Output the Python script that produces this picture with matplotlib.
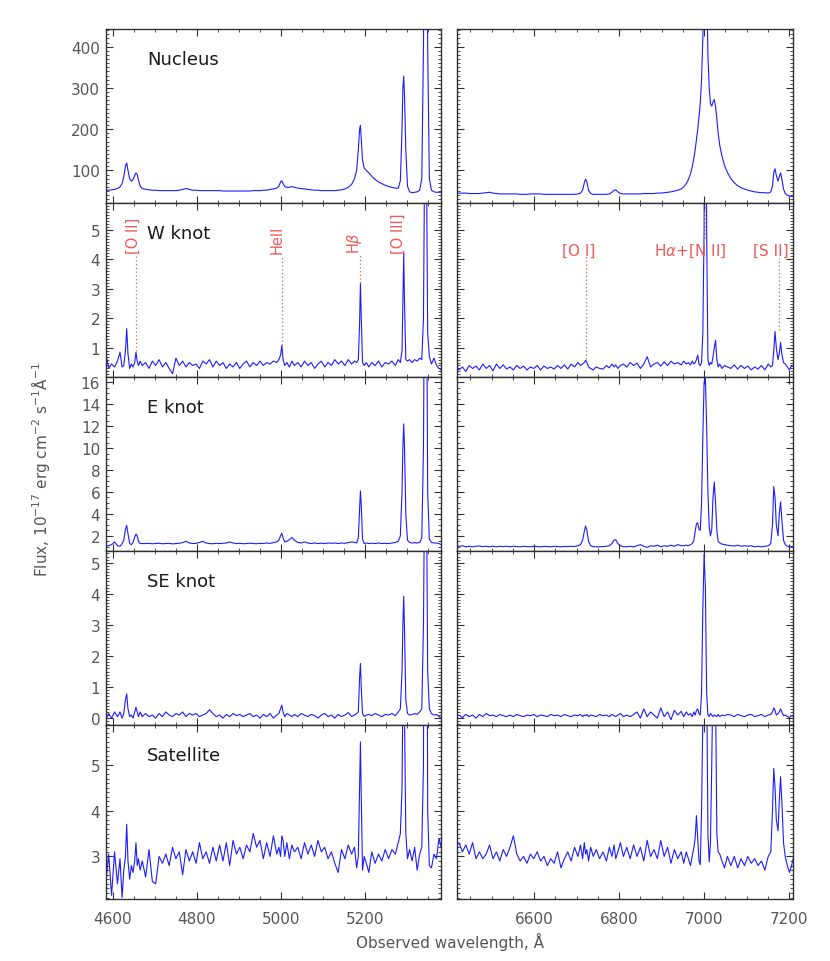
import matplotlib
matplotlib.use("Agg")
import matplotlib.pyplot as plt
from matplotlib.ticker import MultipleLocator

# ---------------- wavelength grids (Angstrom) ----------------
wl_blue = [4583, 4590, 4597, 4604, 4611, 4617, 4622, 4626, 4630, 4633,
           4636, 4640, 4644, 4648, 4652, 4655, 4658, 4661, 4665, 4670,
           4678, 4686, 4694, 4702, 4710, 4718, 4726, 4734, 4742, 4750,
           4758, 4766, 4774, 4782, 4790, 4798, 4806, 4814, 4822, 4830,
           4838, 4846, 4854, 4862, 4870, 4878, 4886, 4894, 4902, 4910,
           4918, 4926, 4934, 4942, 4950, 4958, 4966, 4974, 4982, 4990,
           4995, 4999, 5002, 5005, 5009, 5014, 5020, 5026, 5032,
           5040, 5048, 5056, 5064, 5072, 5080, 5088, 5096, 5104, 5112,
           5120, 5128, 5136, 5144, 5152, 5160, 5168,
           5175, 5180, 5184, 5187, 5189, 5191, 5194, 5198, 5203, 5209, 5216,
           5224, 5232, 5240, 5248, 5256, 5264, 5272, 5279,
           5284, 5288, 5290, 5292, 5294, 5297, 5301, 5306, 5312, 5318,
           5324, 5330, 5335, 5339, 5342, 5344, 5346, 5349, 5353, 5358,
           5364, 5370, 5376, 5381]

wl_red = [6415, 6423, 6431, 6439, 6447, 6455, 6463, 6471, 6479, 6487,
          6495, 6503, 6511, 6519, 6527, 6535, 6543, 6551, 6559, 6567,
          6575, 6583, 6591, 6599, 6607, 6615, 6623, 6631, 6639, 6647,
          6655, 6663, 6671, 6679, 6687, 6695, 6703,
          6709, 6714, 6718, 6721, 6724, 6728, 6733, 6739,
          6746, 6754, 6762, 6770, 6777, 6783, 6788, 6792, 6797, 6803, 6810,
          6818, 6826, 6834, 6842, 6850, 6858, 6866, 6874, 6882, 6890,
          6898, 6906, 6914, 6922, 6930, 6938, 6946,
          6952, 6958, 6963, 6968, 6972, 6976, 6979, 6982, 6985, 6988,
          6991, 6994, 6997, 7000, 7003, 7006, 7009, 7012, 7015, 7018,
          7021, 7024, 7027, 7030, 7033, 7037, 7042, 7048, 7055,
          7063, 7071, 7079, 7087, 7095, 7103, 7111, 7119, 7127, 7135, 7143, 7151,
          7157, 7161, 7164, 7167, 7170, 7174, 7177, 7180, 7183, 7187,
          7191, 7196, 7201, 7206, 7211]

# ---------------- fluxes, blue side ----------------
nucleus_blue = [52, 52, 53, 54, 56, 60, 68, 85, 110, 118,
                100, 80, 74, 78, 88, 94, 90, 76, 62, 56,
                54, 53, 52, 52, 51, 51, 51, 51, 51, 51,
                52, 54, 56, 54, 52, 52, 51, 51, 51, 51,
                51, 51, 51, 50, 50, 50, 50, 50, 50, 50,
                50, 50, 51, 51, 51, 52, 52, 54, 55, 57,
                62, 72, 75, 68, 61, 59, 59, 61, 59,
                57, 56, 55, 54, 53, 52, 52, 51, 51, 51,
                51, 51, 52, 53, 55, 59, 66,
                80, 100, 150, 200, 209, 175, 125, 106, 100, 94, 86,
                78, 72, 68, 64, 61, 59, 57, 57,
                75, 200, 300, 329, 280, 150, 62, 48, 46, 47,
                48, 52, 80, 400, 900, 1000, 900, 400, 80, 52,
                48, 47, 47, 47]

wknot_blue = [0.85, 0.3, 0.45, 0.35, 0.55, 0.85, 0.35, 0.4, 0.9, 1.65,
              0.8, 0.3, 0.45, 0.35, 0.5, 0.85, 0.55, 0.4, 0.55, 0.4,
              0.5, 0.3, 0.55, 0.4, 0.6, 0.35, 0.5, 0.3, 0.12, 0.65,
              0.4, 0.55, 0.35, 0.5, 0.4, 0.45, 0.3, 0.55, 0.45, 0.6,
              0.35, 0.55, 0.4, 0.5, 0.3, 0.45, 0.35, 0.5, 0.3, 0.45,
              0.55, 0.35, 0.5, 0.4, 0.55, 0.4, 0.5, 0.45, 0.55, 0.5,
              0.6, 0.75, 1.08, 0.6, 0.4, 0.5, 0.35, 0.55, 0.4,
              0.5, 0.35, 0.55, 0.4, 0.5, 0.3, 0.45, 0.55, 0.35, 0.5,
              0.4, 0.6, 0.45, 0.55, 0.4, 0.6, 0.45,
              0.55, 0.5, 0.6, 1.8, 3.2, 2.0, 0.5, 0.4, 0.5, 0.35, 0.5,
              0.4, 0.55, 0.35, 0.5, 0.45, 0.55, 0.4, 0.6,
              0.5, 0.9, 2.5, 4.18, 2.5, 0.6, 0.55, 0.6, 0.5, 0.6,
              0.55, 0.65, 0.6, 2.0, 8, 12, 8, 1.5, 0.7, 0.45,
              0.65, 0.4, 0.3, 0.25]

eknot_blue = [1.1, 1.1, 1.2, 1.45, 1.1, 1.05, 1.3, 1.6, 2.6, 2.95,
              2.2, 1.3, 1.2, 1.4, 1.9, 2.15, 2.0, 1.5, 1.3, 1.3,
              1.3, 1.32, 1.28, 1.3, 1.33, 1.28, 1.3, 1.32, 1.27, 1.3,
              1.33, 1.38, 1.5, 1.35, 1.3, 1.32, 1.4, 1.5, 1.35, 1.3,
              1.28, 1.32, 1.3, 1.33, 1.35, 1.45, 1.35, 1.3, 1.32, 1.28,
              1.3, 1.33, 1.3, 1.28, 1.32, 1.3, 1.35, 1.32, 1.38, 1.45,
              1.6, 2.0, 2.24, 1.8, 1.45, 1.5, 1.65, 1.85, 1.6,
              1.4, 1.35, 1.45, 1.35, 1.3, 1.35, 1.3, 1.33, 1.3, 1.35,
              1.32, 1.35, 1.3, 1.35, 1.32, 1.38, 1.45,
              1.4, 1.35, 1.8, 4.5, 6.1, 4.8, 1.7, 1.3, 1.35, 1.3, 1.33,
              1.3, 1.35, 1.3, 1.32, 1.3, 1.35, 1.4, 1.5,
              2.0, 6, 10, 12.2, 10, 4, 1.6, 1.4, 1.35, 1.38,
              1.35, 1.4, 1.8, 10, 30, 40, 30, 6, 1.7, 1.4,
              1.35, 1.35, 1.3, 1.2]

seknot_blue = [-0.05, 0.15, 0.0, 0.2, 0.05, 0.2, 0.0, 0.15, 0.6, 0.78,
               0.3, 0.05, 0.1, 0.0, 0.2, 0.35, 0.2, 0.05, 0.2, 0.05,
               0.15, 0.05, 0.1, 0.0, 0.15, 0.05, 0.2, 0.1, 0.05, 0.15,
               0.1, 0.2, 0.05, 0.15, 0.1, 0.15, 0.05, 0.1, 0.15, 0.27,
               0.15, 0.05, 0.1, 0.0, 0.12, 0.05, 0.15, 0.08, 0.12, 0.05,
               0.1, 0.15, 0.05, 0.1, 0.0, 0.12, 0.05, 0.15, 0.0, 0.1,
               0.15, 0.3, 0.42, 0.2, 0.05, 0.15, 0.1, 0.05, 0.12,
               0.05, 0.15, 0.1, 0.05, 0.12, 0.08, 0.0, 0.1, 0.15, 0.05,
               0.1, 0.0, 0.12, 0.05, 0.1, 0.18, 0.05,
               0.1, 0.15, 0.2, 1.3, 1.76, 1.0, 0.15, 0.05, 0.1, 0.12, 0.08,
               0.15, 0.1, 0.05, 0.12, 0.1, 0.15, 0.08, 0.2,
               0.3, 1.5, 3.0, 3.92, 2.8, 0.6, 0.15, 0.1, 0.12, 0.15,
               0.12, 0.2, 0.3, 3, 8, 10, 8, 1.5, 0.3, 0.15,
               0.1, 0.12, 0.05, 0.0]

sat_blue = [2.4, 3.05, 2.15, 3.1, 2.4, 2.95, 2.1, 2.7, 3.0, 3.7,
            2.9, 2.5, 2.8, 2.65, 2.9, 3.3, 2.8, 2.95, 2.7, 2.9,
            2.55, 3.15, 2.45, 2.4, 3.0, 2.85, 3.05, 2.8, 3.2, 2.95,
            3.1, 2.6, 3.15, 2.9, 3.1, 2.85, 3.3, 2.95, 3.1, 2.85,
            3.2, 2.9, 3.25, 2.9, 3.3, 2.8, 3.35, 3.05, 3.2, 2.95,
            3.25, 3.1, 3.5, 3.2, 3.35, 2.95, 3.3, 3.0, 3.45, 3.05,
            3.2, 3.0, 3.45, 3.35, 3.0, 3.3, 2.95, 3.25, 3.1,
            3.2, 2.95, 3.3, 3.05, 3.25, 3.0, 3.35, 3.1, 3.2, 2.95,
            3.1, 2.85, 2.65, 3.15, 2.95, 3.25, 3.05,
            3.2, 2.75, 3.0, 4.5, 5.5, 4.3, 2.7, 3.0, 2.85, 2.65, 3.1,
            2.85, 3.05, 2.9, 3.15, 2.95, 3.15, 3.05, 3.3,
            3.5, 4.5, 6.5, 8, 6, 3.5, 2.95, 3.15, 2.9, 3.2,
            2.7, 3.05, 3.2, 5, 15, 20, 15, 4, 2.8, 2.75,
            3.05, 2.95, 3.4, 3.2]

# ---------------- fluxes, red side ----------------
nucleus_red = [45, 45, 45, 45, 44, 44, 44, 44, 45, 46,
               47, 45, 44, 43, 43, 43, 43, 43, 43, 42,
               42, 42, 43, 43, 43, 43, 42, 42, 42, 42,
               42, 42, 42, 42, 42, 42, 43,
               45, 52, 70, 79, 72, 52, 44, 42,
               42, 42, 42, 42, 43, 47, 52, 53, 48, 44, 43,
               43, 43, 43, 43, 43, 44, 44, 44, 44, 45,
               45, 46, 47, 48, 50, 52, 55,
               60, 68, 78, 92, 108, 130, 150, 175, 200, 230,
               264, 320, 420, 600, 700, 550, 380, 300, 262, 256,
               266, 272, 255, 225, 191, 160, 135, 112, 95,
               80, 70, 63, 58, 55, 52, 50, 48, 47, 46, 46, 45,
               48, 62, 95, 104, 88, 74, 85, 94, 80, 55,
               44, 40, 38, 37, 37]

wknot_red = [0.4, 0.25, 0.35, 0.2, 0.4, 0.3, 0.38, 0.25, 0.45, 0.3,
             0.4, 0.22, 0.45, 0.3, 0.42, 0.28, 0.35, 0.25, 0.4, 0.3,
             0.38, 0.25, 0.35, 0.3, 0.4, 0.25, 0.38, 0.3, 0.35, 0.28,
             0.4, 0.3, 0.42, 0.28, 0.45, 0.35, 0.5,
             0.4, 0.45, 0.5, 0.58, 0.5, 0.35, 0.3, 0.25,
             0.35, 0.3, 0.28, 0.4, 0.32, 0.45, 0.35, 0.42, 0.3, 0.4, 0.45,
             0.35, 0.5, 0.4, 0.48, 0.3, 0.45, 0.7, 0.35, 0.45, 0.5,
             0.38, 0.52, 0.4, 0.55, 0.45, 0.5, 0.42,
             0.55, 0.45, 0.5, 0.42, 0.55, 0.45, 0.5, 0.6, 0.75, 0.45,
             0.4, 0.5, 1.5, 5, 20, 5, 0.6, 0.4, 0.5, 0.45,
             0.7, 1.0, 1.26, 0.6, 0.35, 0.45, 0.3, 0.4, 0.35,
             0.3, 0.42, 0.28, 0.4, 0.3, 0.38, 0.25, 0.35, 0.28, 0.4, 0.25, 0.45,
             0.35, 0.4, 0.9, 1.55, 1.0, 0.6, 0.8, 1.18, 0.8, 0.5,
             0.45, 0.35, 0.25, 0.4, 0.35]

eknot_red = [1.1, 1.05, 1.1, 1.0, 1.05, 1.0, 1.05, 1.08, 1.02, 1.05,
             1.0, 1.06, 1.0, 1.05, 1.02, 1.06, 1.0, 1.05, 1.03, 1.0,
             1.05, 1.02, 1.0, 1.05, 1.03, 1.0, 1.04, 1.02, 1.0, 1.05,
             1.02, 1.0, 1.04, 1.02, 1.05, 1.03, 1.1,
             1.2, 1.6, 2.4, 2.9, 2.5, 1.5, 1.1, 1.02,
             1.0, 1.0, 1.02, 1.05, 1.1, 1.3, 1.6, 1.65, 1.3, 1.1, 1.02,
             1.0, 1.05, 1.0, 1.1, 1.2, 1.05, 0.95, 1.1, 1.05, 1.15,
             1.0, 1.1, 1.05, 1.15, 1.05, 1.2, 1.1,
             1.1, 1.15, 1.1, 1.2, 1.3, 1.6, 2.4, 3.1, 3.2, 2.6,
             2.5, 5, 11, 16, 16.4, 12, 6, 2.8, 2.0, 2.6,
             5.5, 6.9, 5, 2.5, 1.5, 1.35, 1.25, 1.2, 1.15,
             1.1, 1.08, 1.15, 1.05, 1.1, 1.05, 1.1, 1.0, 1.05, 1.0, 1.05, 1.1,
             1.3, 3.0, 6.5, 5.5, 3.0, 2.0, 4.0, 5.1, 3.5, 1.6,
             1.2, 1.05, 1.0, 1.02, 1.0]

seknot_red = [0.05, 0.1, 0.02, 0.12, 0.05, 0.1, 0.0, 0.12, 0.05, 0.15,
              0.08, 0.1, 0.05, 0.12, 0.08, 0.05, 0.1, 0.05, 0.12, 0.08,
              0.05, 0.1, 0.08, 0.12, 0.05, 0.1, 0.08, 0.05, 0.12, 0.08,
              0.1, 0.05, 0.12, 0.08, 0.05, 0.1, 0.08,
              0.12, 0.05, 0.1, 0.08, 0.12, 0.05, 0.1, 0.08,
              0.05, 0.12, 0.08, 0.1, 0.05, 0.12, 0.08, 0.05, 0.1, 0.15, 0.05,
              0.1, 0.05, 0.12, 0.2, 0.0, 0.3, 0.05, 0.2, 0.1, 0.0,
              0.33, 0.05, 0.2, -0.05, 0.25, 0.1, 0.22,
              0.05, 0.2, 0.1, 0.15, 0.05, 0.2, 0.1, 0.25, 0.3, 0.15,
              0.1, 0.8, 3.5, 5.29, 4.2, 0.8, 0.1, 0.05, 0.15, 0.1,
              0.05, 0.1, 0.08, 0.05, 0.12, 0.05, 0.1, 0.08, 0.12,
              0.1, 0.05, 0.12, 0.08, 0.05, 0.1, 0.12, 0.05, 0.08, 0.12, 0.05, 0.1,
              0.12, 0.2, 0.33, 0.25, 0.1, 0.15, 0.2, 0.3, 0.2, 0.08,
              0.1, 0.05, 0.02, 0.08, 0.05]

sat_red = [3.2, 3.3, 3.1, 3.25, 3.05, 3.3, 2.95, 3.1, 2.95, 3.05,
           3.25, 2.95, 3.1, 2.9, 3.15, 3.0, 3.2, 3.45, 3.05, 2.9,
           3.0, 2.85, 3.05, 2.95, 3.1, 2.9, 3.0, 2.8, 2.95, 2.85,
           3.1, 2.75, 2.95, 3.1, 2.9, 3.2, 3.0,
           3.25, 2.95, 3.3, 3.05, 3.15, 2.9, 3.2, 3.0,
           3.15, 2.95, 3.1, 2.9, 3.2, 3.0, 3.25, 2.95, 3.1, 3.3, 3.0,
           3.2, 2.95, 3.25, 3.0, 3.2, 2.9, 3.35, 3.0, 3.15, 2.95,
           3.35, 3.0, 3.2, 2.85, 3.15, 2.95, 3.1,
           2.85, 3.1, 2.95, 2.8, 3.0, 3.2, 3.4, 3.89, 3.4, 2.9,
           2.82, 4.0, 6, 9, 10, 7, 3.5, 2.88, 3.3, 5,
           7, 8, 6.5, 3.5, 3.1, 3.05, 2.9, 2.75, 3.0,
           2.8, 3.0, 2.75, 2.95, 2.8, 3.0, 2.85, 2.95, 2.8, 2.9, 2.7, 3.0,
           3.1, 4.0, 4.92, 4.5, 3.8, 3.56, 4.2, 4.74, 4.2, 3.3,
           3.0, 2.8, 2.65, 2.8, 3.0]

# ---------------- panel settings ----------------
panel_names = ["Nucleus", "W knot", "E knot", "SE knot", "Satellite"]
flux_blue = [nucleus_blue, wknot_blue, eknot_blue, seknot_blue, sat_blue]
flux_red = [nucleus_red, wknot_red, eknot_red, seknot_red, sat_red]
ylims = [(21, 443), (0.01, 5.91), (0.62, 16.48), (-0.22, 5.38), (2.07, 5.87)]
ymajor = [100, 1, 2, 1, 1]
yminor = [10, 0.1, 0.5, 0.1, 0.1]
xlim_blue = (4583, 5380)
xlim_red = (6419, 7210)

# line identifications in the W knot panel
blue_ids = ["[O II]", "HeII", r"H$\beta$", "[O III]"]
blue_id_wl = [4656, 5002, 5188, 5293]
blue_id_text_wl = [4649, 4990, 5176, 5279]
blue_id_ybottom = [0.88, 1.1, 3.2, 4.2]
red_ids = ["[O I]", r"H$\alpha$+[N II]", "[S II]"]
red_id_wl = [6722, 7003, 7176]
red_id_text_wl = [6705, 6968, 7156]
red_id_yrange = [(0.62, 4.15), (4.72, 6.2), (1.6, 4.05)]

W, H = 830.0, 962.0
fig = plt.figure(figsize=(8.3, 9.62), dpi=100)
fig.patch.set_facecolor("white")

cols = [(105.7, 335.0, wl_blue, flux_blue, xlim_blue),
        (457.3, 336.0, wl_red, flux_red, xlim_red)]
top, ph = 30.0, 174.0
line_color = "#1c1cff"
id_color = "#ee5a5a"
tick_col = "#303030"
lab_col = "#555555"

for i in range(5):
    y0 = 1 - (top + ph * (i + 1)) / H
    for j, (x0, w, wl, fl, xl) in enumerate(cols):
        ax = fig.add_axes([x0 / W, y0, w / W, ph / H])
        ax.plot(wl, fl[i], color=line_color, lw=0.8)
        ax.set_xlim(*xl)
        ax.set_ylim(*ylims[i])
        ax.xaxis.set_major_locator(MultipleLocator(200))
        ax.xaxis.set_minor_locator(MultipleLocator(50))
        ax.yaxis.set_major_locator(MultipleLocator(ymajor[i]))
        ax.yaxis.set_minor_locator(MultipleLocator(yminor[i]))
        ax.tick_params(which="both", direction="in", top=True, right=True,
                       color=tick_col, labelcolor=lab_col, labelsize=11)
        ax.tick_params(which="major", length=5, width=0.8)
        ax.tick_params(which="minor", length=2.5, width=0.6)
        ax.tick_params(axis="x", pad=9)
        ax.tick_params(axis="y", pad=4)
        for s in ax.spines.values():
            s.set_color(tick_col)
            s.set_linewidth(1.0)
        if i < 4:
            ax.tick_params(labelbottom=False)
        if j == 1:
            ax.tick_params(labelleft=False)
        if j == 0:
            ax.text(0.123, 0.83, panel_names[i], transform=ax.transAxes,
                    fontsize=13, ha="left", va="center", color="#1a1a1a")
        if i == 1 and j == 0:
            for lab, lw_, tw, yb in zip(blue_ids, blue_id_wl, blue_id_text_wl, blue_id_ybottom):
                ax.plot([lw_, lw_], [yb, 4.15], color=id_color, lw=0.9,
                        linestyle=(0, (1, 2)))
                ax.text(tw, 4.2, lab, rotation=90, ha="center", va="bottom",
                        color=id_color, fontsize=10.5)
        if i == 1 and j == 1:
            for lab, lw_, tw, yr in zip(red_ids, red_id_wl, red_id_text_wl, red_id_yrange):
                ax.plot([lw_, lw_], list(yr), color=id_color, lw=0.9,
                        linestyle=(0, (1, 2)))
                ax.text(tw, 4.32, lab, ha="center", va="center",
                        color=id_color, fontsize=11)

fig.text(40 / W, 1 - 470 / H,
         r"Flux, 10$^{-17}$ erg cm$^{-2}$ s$^{-1}$$\mathrm{\AA}^{-1}$",
         rotation=90, ha="center", va="center", fontsize=11, color=lab_col)
fig.text(449.5 / W, 1 - 942 / H, "Observed wavelength, Å",
         ha="center", va="center", fontsize=11, color=lab_col)

fig.savefig("out.png", dpi=100)
